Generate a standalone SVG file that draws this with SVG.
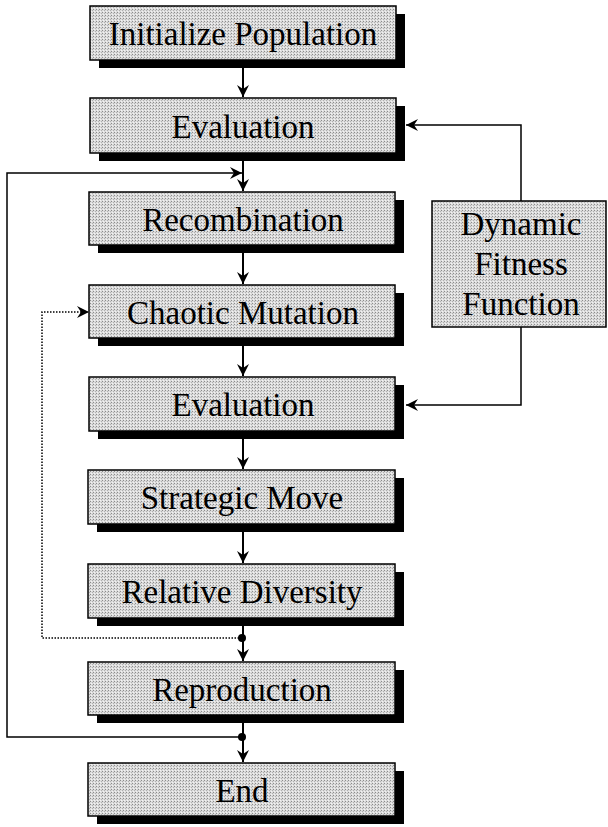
<svg xmlns="http://www.w3.org/2000/svg" width="608" height="827" viewBox="0 0 608 827">
<style>
.box{fill:url(#dots);stroke:#000;stroke-width:1.5}
.sh{fill:#000}
.t{font-family:"Liberation Serif","Times New Roman",serif;font-size:33px;fill:#000;text-anchor:middle}
.main{fill:none;stroke:#000;stroke-width:2}
.thin{fill:none;stroke:#000;stroke-width:1.5}
.dot{fill:none;stroke:#000;stroke-width:1.5;stroke-dasharray:1.5 1.5}
</style>
<defs>
<pattern id="dots" width="3" height="3" patternUnits="userSpaceOnUse">
<rect width="3" height="3" fill="#dcdcdc"/>
<rect x="0" y="0" width="1" height="1" fill="#8c8c8c"/>
<rect x="2" y="1" width="1" height="1" fill="#b0b0b0"/>
<rect x="1" y="2" width="1" height="1" fill="#f2f2f2"/>
</pattern>
<marker id="ah" viewBox="0 0 12 12" markerWidth="12" markerHeight="12" refX="12" refY="6" orient="auto" markerUnits="userSpaceOnUse">
<path d="M0,0 L12,6 L0,12 L4,6 z" fill="#000"/>
</marker>
<marker id="jd" viewBox="0 0 8 8" markerWidth="8" markerHeight="8" refX="4" refY="4" markerUnits="userSpaceOnUse">
<circle cx="4" cy="4" r="4" fill="#000"/>
</marker>
</defs>

<g id="connectors">
<line class="main" x1="243" y1="60" x2="243" y2="97" marker-end="url(#ah)"/>
<line class="main" x1="243" y1="153" x2="243" y2="191" marker-end="url(#ah)"/>
<line class="main" x1="243" y1="245" x2="243" y2="284" marker-end="url(#ah)"/>
<line class="main" x1="243" y1="338" x2="243" y2="376" marker-end="url(#ah)"/>
<line class="main" x1="243" y1="431" x2="243" y2="469" marker-end="url(#ah)"/>
<line class="main" x1="243" y1="524" x2="243" y2="563" marker-end="url(#ah)"/>
<line class="main" x1="243" y1="618" x2="243" y2="661" marker-end="url(#ah)"/>
<line class="main" x1="243" y1="715" x2="243" y2="762" marker-end="url(#ah)"/>
<polyline class="thin" points="242,737 7,737 7,173 242,173" marker-start="url(#jd)" marker-end="url(#ah)"/>
<polyline class="dot" points="242,638 42,638 42,312 89,312" marker-start="url(#jd)" marker-end="url(#ah)"/>
<polyline class="thin" points="521,201 521,125 406,125" marker-end="url(#ah)"/>
<polyline class="thin" points="521,327 521,405 406,405" marker-end="url(#ah)"/>
</g>

<g id="n1"><rect class="sh" x="99" y="14" width="306" height="54"/><rect class="box" x="90" y="6" width="306" height="54"/><text class="t" x="243" y="45">Initialize Population</text></g>
<g id="n2"><rect class="sh" x="99" y="106" width="306" height="55"/><rect class="box" x="90" y="98" width="306" height="55"/><text class="t" x="243" y="138">Evaluation</text></g>
<g id="n3"><rect class="sh" x="98" y="200" width="306" height="53"/><rect class="box" x="89" y="192" width="306" height="53"/><text class="t" x="243" y="231">Recombination</text></g>
<g id="n4"><rect class="sh" x="98" y="293" width="306" height="53"/><rect class="box" x="89" y="285" width="306" height="53"/><text class="t" x="243" y="324">Chaotic Mutation</text></g>
<g id="n5"><rect class="sh" x="98" y="385" width="306" height="54"/><rect class="box" x="89" y="377" width="306" height="54"/><text class="t" x="243" y="416">Evaluation</text></g>
<g id="n6"><rect class="sh" x="97" y="478" width="307" height="54"/><rect class="box" x="88" y="470" width="307" height="54"/><text class="t" x="242" y="509">Strategic Move</text></g>
<g id="n7"><rect class="sh" x="97" y="572" width="307" height="54"/><rect class="box" x="88" y="564" width="307" height="54"/><text class="t" x="242" y="603">Relative Diversity</text></g>
<g id="n8"><rect class="sh" x="97" y="670" width="307" height="53"/><rect class="box" x="88" y="662" width="307" height="53"/><text class="t" x="242" y="701">Reproduction</text></g>
<g id="n9"><rect class="sh" x="97" y="771" width="307" height="53"/><rect class="box" x="88" y="763" width="307" height="53"/><text class="t" x="242" y="802">End</text></g>
<g id="n10"><rect class="box" x="432" y="201" width="174" height="126"/><text class="t" x="521" y="235">Dynamic</text><text class="t" x="521" y="275">Fitness</text><text class="t" x="521" y="315">Function</text></g>
</svg>
